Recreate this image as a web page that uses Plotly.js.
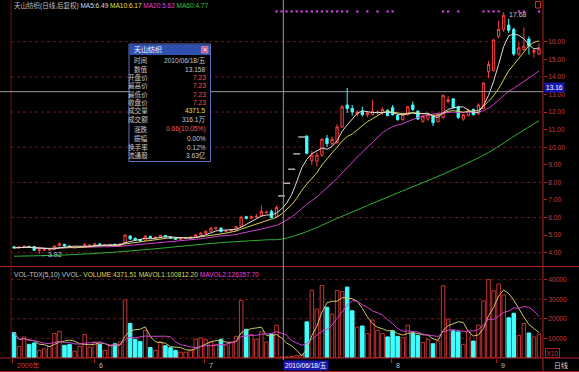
<!DOCTYPE html>
<html><head><meta charset="utf-8">
<script src="https://cdn.plot.ly/plotly-3.0.1.min.js"></script>
<style>html,body{margin:0;padding:0;background:#000;}#chart{width:579px;height:372px;}</style>
</head><body><div id="chart"></div>
<script>
// ---- data ----
const openP = [4.33,4.27,4.30,4.36,4.35,4.12,4.14,4.15,4.20,4.40,
 4.48,4.38,4.28,4.30,4.33,4.40,4.42,4.50,4.42,4.43,
 4.48,4.42,4.55,4.95,4.82,4.75,4.70,4.93,4.82,4.88,
 4.98,4.90,4.84,4.76,4.80,4.85,4.90,5.00,5.10,5.22,
 5.35,5.40,5.20,5.24,5.30,5.50,6.05,5.96,6.02,6.08,
 6.28,6.35,6.05,7.23,7.95,8.75,9.62,10.58,10.62,9.25,
 9.20,9.55,10.50,10.20,10.25,11.15,12.40,12.20,11.90,12.05,
 11.85,11.85,11.95,11.95,12.10,12.25,11.80,11.57,11.85,12.40,
 12.05,11.47,11.60,11.76,11.45,11.70,12.60,12.75,12.30,11.60,
 11.80,12.15,11.90,12.20,14.30,14.35,16.30,16.70,16.95,16.70,
 15.30,15.55,16.15,15.40,15.30];
const highP = [4.40,4.36,4.42,4.38,4.37,4.20,4.20,4.24,4.42,4.58,
 4.50,4.40,4.34,4.37,4.55,4.46,4.53,4.52,4.47,4.50,
 4.50,4.53,5.05,5.00,4.86,4.78,5.00,4.97,4.92,5.02,
 5.00,4.93,4.86,4.83,4.88,4.92,5.06,5.16,5.26,5.45,
 5.48,5.43,5.30,5.35,5.52,6.10,6.10,6.12,6.20,6.68,
 6.40,6.45,6.68,7.23,7.95,8.75,9.62,10.58,10.70,9.80,
 9.70,10.50,10.70,10.60,11.30,12.40,13.37,12.40,12.10,12.30,
 12.00,12.70,12.10,12.25,12.15,12.40,11.90,11.90,12.35,12.60,
 12.10,11.85,11.95,11.85,11.95,13.00,12.90,12.80,12.35,11.90,
 12.20,12.20,12.50,13.70,14.90,16.15,17.20,17.68,17.30,16.80,
 16.00,16.80,16.30,15.60,15.90];
const lowP = [4.25,4.24,4.27,4.27,4.10,3.92,4.10,4.12,4.18,4.36,
 4.35,4.27,4.25,4.28,4.30,4.38,4.40,4.40,4.40,4.41,
 4.40,4.40,4.50,4.72,4.68,4.62,4.65,4.82,4.80,4.85,
 4.87,4.80,4.74,4.74,4.78,4.82,4.88,4.98,5.08,5.20,
 5.33,5.15,5.17,5.20,5.27,5.45,5.90,5.93,6.00,6.05,
 6.22,5.98,6.02,7.23,7.95,8.75,9.62,10.58,9.60,9.00,
 8.90,9.45,10.00,10.10,10.20,11.10,11.95,11.80,11.75,11.75,
 11.70,11.80,11.85,11.85,11.75,11.80,11.50,11.50,11.80,12.05,
 11.55,11.40,11.50,11.20,11.40,11.60,12.50,12.20,11.60,11.50,
 11.75,11.80,11.85,12.15,13.95,14.30,16.20,16.55,16.50,15.20,
 15.20,15.50,15.26,15.10,15.25];
const closeP = [4.28,4.32,4.36,4.30,4.14,4.16,4.17,4.20,4.38,4.50,
 4.38,4.30,4.31,4.34,4.45,4.43,4.50,4.42,4.45,4.47,
 4.42,4.50,5.00,4.78,4.72,4.65,4.95,4.85,4.88,4.98,
 4.90,4.82,4.76,4.80,4.85,4.88,5.02,5.12,5.22,5.40,
 5.42,5.20,5.25,5.30,5.48,6.02,5.95,6.05,6.05,6.35,
 6.30,6.00,6.57,7.23,7.95,8.75,9.62,10.58,9.65,9.55,
 9.55,10.45,10.20,10.45,11.15,12.30,12.20,12.00,12.00,11.85,
 11.95,12.05,12.00,12.15,11.80,11.85,11.57,11.85,12.30,12.15,
 11.60,11.76,11.85,11.40,11.85,12.95,12.70,12.25,11.70,11.85,
 12.10,11.85,12.40,13.65,14.70,16.10,16.70,17.50,16.65,15.30,
 15.65,15.75,15.75,15.50,15.60];
const volume = [12900,5800,10700,6900,7600,3800,4600,5800,12400,13600,
 6400,6900,3400,5800,11900,5500,8100,6900,3800,6400,
 7200,8100,29600,17600,9500,8400,14100,5200,3800,8100,
 6200,5200,3800,2900,2900,4100,9500,10200,9300,8100,
 6900,9500,6400,8100,11000,29300,14600,11900,9500,13300,
 8100,12200,16700,437,500,700,1200,1800,18400,34500,
 25000,37000,25900,22400,34500,34000,36200,24100,15800,16300,
 12400,19300,14100,12400,10700,13800,11000,10300,16700,12700,
 11500,7800,9500,7200,8600,36900,19800,13800,13300,6900,
 13300,8600,16700,29100,40000,34300,37800,32200,20500,22800,
 11500,17600,12700,10700,12200];
// MA60 (bar index, value)
const ma60Idx = [0,10,20,30,40,50,53,58,64,70,76,82,88,94,100,104];
const ma60Val = [3.80,3.87,4.03,4.28,4.55,4.73,4.77,5.20,5.95,6.68,7.40,8.10,8.85,9.70,10.80,11.50];
// signal dots along the top
const signalIdx = [52,53,54,55,56,57,58,59,60,61,62,63,64,65,66,68,70,72,74,75,85,86,88,93,94,95,96,100,101,104];
// axis labels
const priceTicks = [4,5,6,7,8,9,10,11,12,13,14,15,16];
const priceGrid = [4,6,8,10,12,14,16];
const volTicks = [10000,20000,30000,40000];
const dateLabelPos = [0.15,16.4,38.3,75.3,96.1];
const dateLabelText = ['2009年','6','7','8','9'];
const crossIdx = 53, crossPrice = 13.158;
const crossDate = '2010/06/18/五', crossPriceLabel = '13.16';
const highLabel = {i:97, v:17.68, t:'17.68'};
const lowLabel = {i:5, v:3.92, t:'←3.92'};
const infoTitle = '天山纺织';
const infoLabels = ['时间','数值','开盘价','最高价','最低价','收盘价','成交量','成交额','涨跌','振幅','换手率','流通股'];
const infoValues = ['2010/06/18/五','13.158','7.23','7.23','7.23','7.23','4371.5','316.1万','0.66(10.05%)','0.00%','0.12%','3.63亿'];
const titleParts = ['天山纺织(日线,后复权)','MA5:6.49','MA10:6.17','MA20:5.62','MA60:4.77'];
const volTitleParts = ['VOL-TDX(5,10) VVOL-','VOLUME:4371.51','MAVOL1:100812.20','MAVOL2:126357.70'];

// ---- styles ----
const RED='#ff4040', CYAN='#40ffff', VRED='#c83232', AXR='#c83c3c', LINE='#b02020';
const C_MA5='#dcdcdc', C_MA10='#d4d45a', C_MA20='#d040d0', C_MA60='#30b030';
const FONT='"Liberation Sans","Noto Sans CJK SC",sans-serif';
const W=579,H=372,PL=11,PR=36,PT=0,PB=14;
const PW=W-PL-PR, PH=H-PT-PB;
const fx=px=>(px-PL)/PW, fy=py=>(PH-py)/PH;

const idx = closeP.map((_,i)=>i);
const isFlat = i => openP[i]===closeP[i] && highP[i]===lowP[i];
const cIdx = idx.filter(i=>!isFlat(i)), fIdx = idx.filter(isFlat);
function rollMean(a,n){return a.map((_,i)=>{const s=Math.max(0,i-n+1);let t=0;for(let k=s;k<=i;k++)t+=a[k];return t/(i-s+1);});}
const up = idx.map(i=>closeP[i]>=openP[i]);

const traces = [
 {type:'bar', x:idx, y:volume, xaxis:'x', yaxis:'y2',
  marker:{color:up.map(u=>u?'#000000':CYAN), line:{color:up.map(u=>u?VRED:CYAN), width:1}}, hoverinfo:'skip'},
 {type:'scatter', mode:'lines', x:idx, y:rollMean(volume,5), yaxis:'y2', line:{color:'#c8c864', width:1}, hoverinfo:'skip'},
 {type:'scatter', mode:'lines', x:idx, y:rollMean(volume,10), yaxis:'y2', line:{color:C_MA20, width:1}, hoverinfo:'skip'},
 {type:'scatter', mode:'lines', x:ma60Idx, y:ma60Val, yaxis:'y', line:{color:C_MA60, width:1, shape:'spline'}, hoverinfo:'skip'},
 {type:'scatter', mode:'lines', x:idx, y:rollMean(closeP,20), yaxis:'y', line:{color:C_MA20, width:1}, hoverinfo:'skip'},
 {type:'scatter', mode:'lines', x:idx, y:rollMean(closeP,10), yaxis:'y', line:{color:C_MA10, width:1}, hoverinfo:'skip'},
 {type:'scatter', mode:'lines', x:idx, y:rollMean(closeP,5), yaxis:'y', line:{color:C_MA5, width:1}, hoverinfo:'skip'},
 {type:'candlestick', x:cIdx, open:cIdx.map(i=>openP[i]), high:cIdx.map(i=>highP[i]), low:cIdx.map(i=>lowP[i]), close:cIdx.map(i=>closeP[i]),
  xaxis:'x', yaxis:'y', whiskerwidth:0,
  increasing:{line:{color:RED,width:1}, fillcolor:'#000000'},
  decreasing:{line:{color:CYAN,width:1}, fillcolor:CYAN}, hoverinfo:'skip'},
 {type:'scatter', mode:'markers', x:fIdx, y:fIdx.map(i=>closeP[i]), yaxis:'y',
  marker:{symbol:'line-ew', size:5, line:{color:'#d8d8d8', width:1.2}}, hoverinfo:'skip'},
 {type:'scatter', mode:'markers', x:signalIdx, y:signalIdx.map(()=>17.72), yaxis:'y',
  marker:{symbol:'square', size:2.2, color:'#d040e0'}, hoverinfo:'skip'}
];

const shapes = [];
priceGrid.forEach(v=>shapes.push({type:'line',xref:'paper',yref:'y',x0:0,x1:1,y0:v,y1:v,layer:'below',line:{color:'#7a1414',width:1,dash:'dot'}}));
volTicks.forEach(v=>shapes.push({type:'line',xref:'paper',yref:'y2',x0:0,x1:1,y0:v,y1:v,layer:'below',line:{color:'#7a1414',width:1,dash:'dot'}}));
const hl=(py,col)=>shapes.push({type:'line',xref:'paper',yref:'paper',x0:fx(0),x1:fx(579),y0:fy(py),y1:fy(py),line:{color:col||LINE,width:1}});
hl(266.5); hl(358); hl(371.5);
shapes.push({type:'line',xref:'paper',yref:'paper',x0:fx(543),x1:fx(543),y0:fy(0),y1:fy(372),line:{color:LINE,width:1}});
shapes.push({type:'line',xref:'paper',yref:'paper',x0:fx(11),x1:fx(11),y0:fy(0),y1:fy(358),line:{color:'#6a1414',width:1}});
// crosshair
shapes.push({type:'line',xref:'x',yref:'paper',x0:crossIdx+0.35,x1:crossIdx+0.35,y0:fy(0),y1:fy(360),layer:'above',line:{color:'#9a9a9a',width:1}});
shapes.push({type:'line',xref:'paper',yref:'y',x0:fx(0),x1:1,y0:crossPrice,y1:crossPrice,layer:'above',line:{color:'#9a9a9a',width:1}});
// info box
shapes.push({type:'rect',xref:'paper',yref:'paper',x0:fx(129),x1:fx(210.5),y0:fy(161.5),y1:fy(44),layer:'above',fillcolor:'#000000',line:{color:'#6272c0',width:1}});
shapes.push({type:'rect',xref:'paper',yref:'paper',x0:fx(129.5),x1:fx(210),y0:fy(55),y1:fy(44.5),layer:'above',fillcolor:'#3050b0',line:{width:0}});
shapes.push({type:'rect',xref:'paper',yref:'paper',x0:fx(201.5),x1:fx(208),y0:fy(53),y1:fy(46.5),layer:'above',fillcolor:'#c85a8a',line:{color:'#e0a0c0',width:0.6}});
// small red icon top right
shapes.push({type:'rect',xref:'paper',yref:'paper',x0:fx(535.5),x1:fx(540.5),y0:fy(8),y1:fy(1.5),layer:'above',line:{color:'#c83232',width:1}});

const ann = [];
const A=(o)=>ann.push(Object.assign({showarrow:false,font:{family:FONT,size:7,color:'#c8c8c8'}},o));
const tcol=['#c0c0c0',C_MA5,'#e0e040','#e040e0','#40c040'];
A({xref:'paper',yref:'paper',x:fx(12),y:fy(5),xanchor:'left',yanchor:'middle',
   text:titleParts.map((t,k)=>'<span style="color:'+tcol[k]+'">'+t+'</span>').join(' '),font:{family:FONT,size:6.5}});
const vcol=['#c0c0c0','#d8d860','#d8d860','#e040e0'];
A({xref:'paper',yref:'paper',x:fx(12),y:fy(275),xanchor:'left',yanchor:'middle',
   text:volTitleParts.map((t,k)=>'<span style="color:'+vcol[k]+'">'+t+'</span>').join(' '),font:{family:FONT,size:6.6}});
// info box texts
A({xref:'paper',yref:'paper',x:fx(131.5),y:fy(49.6),xanchor:'left',yanchor:'middle',text:infoTitle,font:{family:FONT,size:7,color:'#ffffff'}});
A({xref:'paper',yref:'paper',x:fx(204.8),y:fy(49.6),xanchor:'center',yanchor:'middle',text:'×',font:{family:FONT,size:7,color:'#ffffff'}});
const rowY=[60.7,69.3,77.5,85.7,94,102.3,111,120,129.2,138.2,147.2,155.8];
const valCol=['#c8c8c8','#c8c8c8','#ff5050','#ff5050','#ff5050','#ff5050','#e0e040','#c8c8c8','#ff5050','#c8c8c8','#c8c8c8','#c8c8c8'];
infoLabels.forEach((t,k)=>{
  A({xref:'paper',yref:'paper',x:fx(149.5),y:fy(rowY[k]),xanchor:'right',yanchor:'middle',text:t,font:{family:FONT,size:6.6,color:'#c8c8c8'}});
  A({xref:'paper',yref:'paper',x:fx(208),y:fy(rowY[k]),xanchor:'right',yanchor:'middle',text:infoValues[k],font:{family:FONT,size:6.6,color:valCol[k]}});
});
// high / low labels
A({xref:'x',yref:'y',x:highLabel.i,y:highLabel.v,xanchor:'left',yanchor:'middle',xshift:3,yshift:-2,text:highLabel.t,font:{family:FONT,size:7,color:'#c8c8c8'}});
A({xref:'x',yref:'y',x:lowLabel.i,y:lowLabel.v,xanchor:'left',yanchor:'middle',text:lowLabel.t,font:{family:FONT,size:7,color:'#c8c8c8'}});
// axis extras
A({xref:'paper',yref:'y',x:fx(543.5),y:crossPrice,xanchor:'left',yanchor:'middle',yshift:4,text:crossPriceLabel,bgcolor:'#1818b0',borderpad:1,font:{family:FONT,size:6.6,color:'#ffffff'}});
A({xref:'paper',yref:'paper',x:fx(545),y:fy(353),xanchor:'left',yanchor:'middle',text:'X10',bordercolor:LINE,borderwidth:1,borderpad:0.5,font:{family:FONT,size:6.3,color:AXR}});
A({xref:'paper',yref:'paper',x:fx(561),y:fy(365),xanchor:'center',yanchor:'middle',text:'日线',font:{family:FONT,size:7,color:'#d0d0d0'}});
dateLabelText.forEach((t,k)=>A({xref:'x',yref:'paper',x:dateLabelPos[k],y:fy(365),xanchor:'left',yanchor:'middle',text:t,font:{family:FONT,size:7,color:k===0?AXR:'#c0c0c0'}}));
A({xref:'x',yref:'paper',x:crossIdx+0.35,y:fy(365),xanchor:'left',yanchor:'middle',text:crossDate,bgcolor:'#1818b0',borderpad:1,font:{family:FONT,size:6.6,color:'#ffffff'}});

const layout = {
  width:W,height:H,margin:{l:PL,r:PR,t:PT,b:PB,pad:0},
  paper_bgcolor:'#000000',plot_bgcolor:'#000000',showlegend:false,hovermode:false,dragmode:false,
  font:{family:FONT,size:7,color:'#c8c8c8'},
  boxgap:0.35,bargap:0.3,
  xaxis:{range:[-0.594,104.79],anchor:'y2',showgrid:false,zeroline:false,showline:false,showticklabels:false,
    ticks:'outside',ticklen:4,tickcolor:LINE,tickvals:dateLabelPos.map(v=>v-0.5),rangeslider:{visible:false},fixedrange:true},
  yaxis:{domain:[fy(266),1],range:[3.243,18.372],side:'right',anchor:'x',showgrid:false,zeroline:false,showline:false,
    tickvals:priceTicks,ticktext:priceTicks.map(v=>v.toFixed(2)),ticks:'outside',ticklen:3,tickcolor:LINE,
    tickfont:{family:FONT,size:6.6,color:AXR},fixedrange:true},
  yaxis2:{domain:[0,fy(267)],range:[-100,46490],side:'right',anchor:'x',showgrid:false,zeroline:false,showline:false,
    tickvals:volTicks,ticktext:volTicks.map(String),ticks:'outside',ticklen:3,tickcolor:LINE,
    tickfont:{family:FONT,size:6.6,color:AXR},fixedrange:true},
  shapes:shapes,annotations:ann
};
Plotly.newPlot('chart',traces,layout,{staticPlot:true,displayModeBar:false});
</script></body></html>
